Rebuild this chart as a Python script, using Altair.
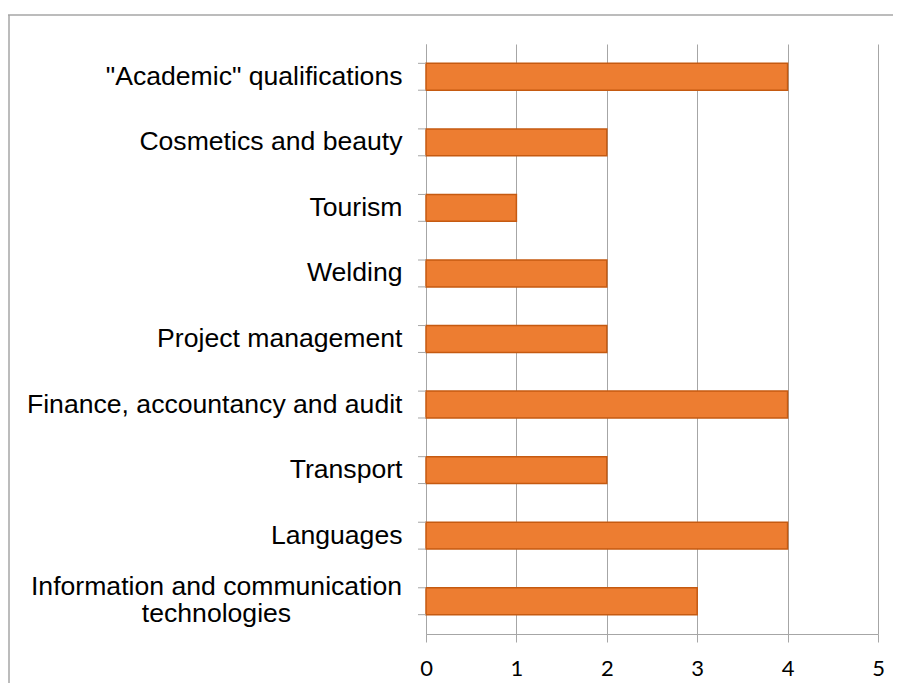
import altair as alt
import pandas as pd

categories = [
    '"Academic" qualifications',
    'Cosmetics and beauty',
    'Tourism',
    'Welding',
    'Project management',
    'Finance, accountancy and audit',
    'Transport',
    'Languages',
    'Information and communication\ntechnologies',
]
values = [4, 2, 1, 2, 2, 4, 2, 4, 3]
x_ticks = [0, 1, 2, 3, 4, 5]

df = pd.DataFrame({"cat": categories, "val": values})
frame_df = pd.DataFrame({"f": [0]})

GRAY = "#A6A6A6"
y_scale = alt.Scale(domain=categories, paddingInner=0.59, paddingOuter=0.295)
IS_TWO = "indexof(datum.value, '\\n') >= 0"

y_axis = alt.Axis(
    title=None, ticks=False, domainColor=GRAY,
    labelFont="Liberation Sans", labelFontSize=26.6, labelColor="#000000",
    labelExpr="split(datum.label, '\\n')",
    labelLineHeight=27, labelLimit=440,
    labelAlign={"condition": {"test": IS_TWO, "value": "center"}, "value": "right"},
    labelPadding={"condition": {"test": IS_TWO, "value": 210}, "value": 24},
    labelOffset={"condition": {"test": IS_TWO, "value": -14}, "value": 0},
)

frame_top = alt.Chart(frame_df).mark_rule(color=GRAY, strokeWidth=1.5).encode(
    x=alt.value(-418), x2=alt.value(467), y=alt.value(-29)
)
frame_left = alt.Chart(frame_df).mark_rule(color=GRAY, strokeWidth=1.5).encode(
    x=alt.value(-417), y=alt.value(-29), y2=alt.value(700)
)

bars = alt.Chart(df).mark_bar(
    fill="#ED7D31", stroke="#C55A11", strokeWidth=1.5
).encode(
    x=alt.X(
        "val:Q",
        scale=alt.Scale(domain=[0, 5], nice=False),
        axis=alt.Axis(
            values=x_ticks, grid=True, gridColor=GRAY, domainColor=GRAY,
            tickColor=GRAY, tickSize=8, labelFont="Lato", labelFontSize=22,
            labelColor="#000000", labelPadding=16, title=None, format="d",
            labelFlush=False,
        ),
    ),
    y=alt.Y("cat:N", sort=categories, scale=y_scale, axis=y_axis),
)

tick_top = alt.Chart(df).mark_rule(color=GRAY, strokeWidth=1).encode(
    y=alt.Y("cat:N", sort=categories, scale=y_scale, bandPosition=0, axis=y_axis),
    x=alt.value(-8), x2=alt.value(0),
)
tick_bottom = alt.Chart(df).mark_rule(color=GRAY, strokeWidth=1).encode(
    y=alt.Y("cat:N", sort=categories, scale=y_scale, bandPosition=1, axis=y_axis),
    x=alt.value(-8), x2=alt.value(0),
)

chart = alt.layer(frame_top, frame_left, bars, tick_top, tick_bottom).properties(
    width=452,
    height=590,
    autosize=alt.AutoSizeParams(type="none"),
    padding={"left": 418, "top": 36, "right": 15, "bottom": 49},
).configure_view(stroke=None)

chart.save("out.html", embed_options={"renderer": "svg", "actions": False})
